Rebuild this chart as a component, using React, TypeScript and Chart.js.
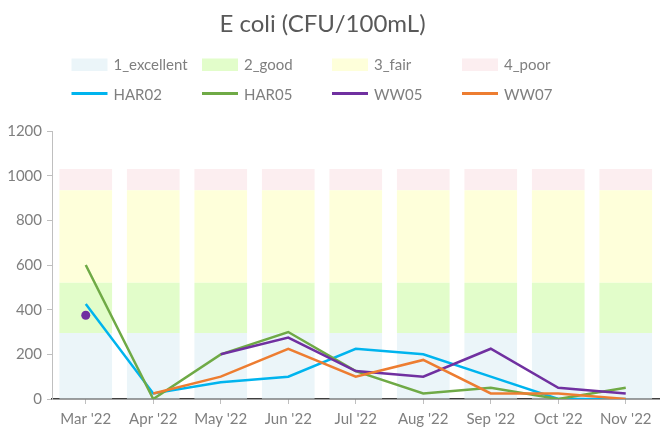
import React, { useEffect, useRef } from 'react';
import { Chart, registerables } from 'chart.js';

Chart.register(...registerables);

const titleText = 'E coli (CFU/100mL)';
const categories = ["Mar '22", "Apr '22", "May '22", "Jun '22", "Jul '22", "Aug '22", "Sep '22", "Oct '22", "Nov '22"];

// Stacked quality bands
const band1Excellent = [295, 295, 295, 295, 295, 295, 295, 295, 295];
const band2Good = [225, 225, 225, 225, 225, 225, 225, 225, 225];
const band3Fair = [415, 415, 415, 415, 415, 415, 415, 415, 415];
const band4Poor = [95, 95, 95, 95, 95, 95, 95, 95, 95];

// Site series
const har02 = [425, 25, 75, 100, 225, 200, 100, 0, 0];
const har05 = [600, 0, 200, 300, 125, 25, 50, 0, 50];
const ww05 = [375, null, 200, 275, 125, 100, 225, 50, 25];
const ww07 = [null, 25, 100, 225, 100, 175, 25, 25, 0];

const yTicks = [0, 200, 400, 600, 800, 1000, 1200];

const bandDefs = [
  { label: '1_excellent', data: band1Excellent, color: '#EBF5F9' },
  { label: '2_good', data: band2Good, color: '#E2FDCA' },
  { label: '3_fair', data: band3Fair, color: '#FEFFDA' },
  { label: '4_poor', data: band4Poor, color: '#FCEEF0' },
];
const lineDefs = [
  { label: 'HAR02', data: har02, color: '#00B4EE' },
  { label: 'HAR05', data: har05, color: '#6FAA46' },
  { label: 'WW05', data: ww05, color: '#7030A0' },
  { label: 'WW07', data: ww07, color: '#ED7D31' },
];

const FONT = 'Lato, "Open Sans", sans-serif';

const headerPlugin = {
  id: 'headerPlugin',
  afterDraw(chart: any) {
    const ctx = chart.ctx;
    ctx.save();
    ctx.fillStyle = '#595959';
    ctx.font = `24px ${FONT}`;
    ctx.textAlign = 'center';
    ctx.textBaseline = 'middle';
    ctx.fillText(titleText, 322.5, 24);

    const colX = [71.5, 202, 332, 462];
    ctx.font = `15px ${FONT}`;
    ctx.textAlign = 'left';
    bandDefs.forEach((b, i) => {
      ctx.fillStyle = b.color;
      ctx.fillRect(colX[i], 58.5, 36, 12.5);
      ctx.fillStyle = '#7F7F7F';
      ctx.fillText(b.label, colX[i] + 42, 65.5);
    });
    lineDefs.forEach((l, i) => {
      ctx.strokeStyle = l.color;
      ctx.lineWidth = 3;
      ctx.beginPath();
      ctx.moveTo(colX[i], 93.5);
      ctx.lineTo(colX[i] + 36, 93.5);
      ctx.stroke();
      ctx.fillStyle = '#7F7F7F';
      ctx.fillText(l.label, colX[i] + 42, 95);
    });
    ctx.restore();
  },
};

export default function App() {
  const ref = useRef<HTMLCanvasElement | null>(null);

  useEffect(() => {
    if (!ref.current) return;
    const isolatedRadius = (ctx: any) => {
      const d = ctx.dataset.data;
      const i = ctx.dataIndex;
      const prev = i > 0 ? d[i - 1] : null;
      const next = i < d.length - 1 ? d[i + 1] : null;
      return d[i] != null && prev == null && next == null ? 4.5 : 0;
    };
    const datasets: any[] = [
      ...bandDefs.map((b) => ({
        type: 'bar',
        label: b.label,
        data: b.data,
        backgroundColor: b.color,
        borderWidth: 0,
        stack: 'bands',
        order: 10,
        barPercentage: 0.78,
        categoryPercentage: 1,
      })),
      ...lineDefs.map((l, i) => ({
        type: 'line',
        label: l.label,
        data: l.data,
        borderColor: l.color,
        backgroundColor: l.color,
        borderWidth: 2.5,
        tension: 0,
        fill: false,
        spanGaps: false,
        stack: 'line' + i,
        order: 4 - i,
        pointRadius: isolatedRadius,
        pointHoverRadius: isolatedRadius,
        pointBorderWidth: 0,
        pointBackgroundColor: l.color,
      })),
    ];
    const chart = new Chart(ref.current, {
      type: 'bar',
      data: { labels: categories, datasets },
      options: {
        responsive: false,
        animation: false,
        layout: { padding: { top: 131, left: 0, right: 0, bottom: 0 } },
        plugins: {
          legend: { display: false },
          title: { display: false },
          tooltip: { enabled: false },
        },
        scales: {
          x: {
            stacked: true,
            grid: {
              display: true,
              drawOnChartArea: false,
              drawTicks: true,
              tickLength: 5,
              color: '#BFBFBF',
              offset: false,
            },
            border: { display: true, color: '#404040', width: 1.5 },
            ticks: {
              color: '#7F7F7F',
              font: { family: FONT, size: 15 },
              padding: 6,
              maxRotation: 0,
              autoSkip: false,
            },
            afterFit: (s: any) => {
              s.height = 31;
            },
          },
          y: {
            stacked: true,
            min: 0,
            max: 1200,
            afterBuildTicks: (s: any) => {
              s.ticks = yTicks.map((v) => ({ value: v }));
            },
            grid: {
              display: true,
              drawOnChartArea: false,
              drawTicks: true,
              tickLength: 5,
              color: '#BFBFBF',
            },
            border: { display: true, color: '#BFBFBF', width: 1 },
            ticks: {
              color: '#7F7F7F',
              font: { family: FONT, size: 15 },
              padding: 5,
              callback: (v: any) => String(v),
            },
            afterFit: (s: any) => {
              s.width = 52;
            },
          },
        },
      } as any,
      plugins: [headerPlugin],
    });
    return () => chart.destroy();
  }, []);

  return (
    <div style={{ position: 'fixed', left: 0, top: 0, width: 664, height: 430, background: '#fff' }}>
      <canvas ref={ref} width={664} height={430} />
    </div>
  );
}
